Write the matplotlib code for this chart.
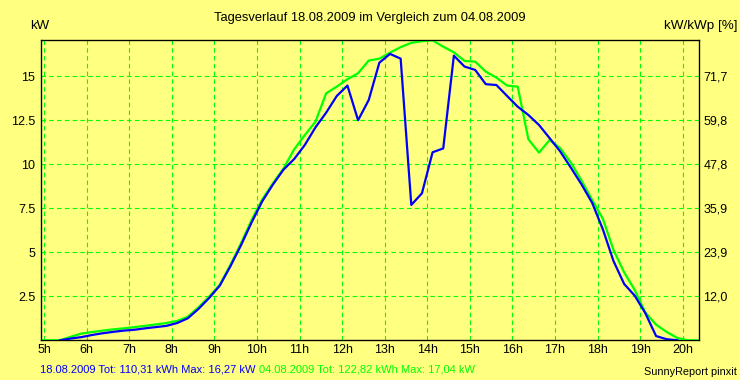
import numpy as np
import matplotlib
matplotlib.use("Agg")
import matplotlib.pyplot as plt

# Uhrzeit (Stunden, 15-min Mittelwerte)
horas = [4.875, 5.125, 5.375, 5.625, 5.875, 6.125, 6.375, 6.625, 6.875, 7.125,
         7.375, 7.625, 7.875, 8.125, 8.375, 8.625, 8.875, 9.125, 9.375, 9.625,
         9.875, 10.125, 10.375, 10.625, 10.875, 11.125, 11.375, 11.625, 11.875, 12.125,
         12.375, 12.625, 12.875, 13.125, 13.375, 13.625, 13.875, 14.125, 14.375, 14.625,
         14.875, 15.125, 15.375, 15.625, 15.875, 16.125, 16.375, 16.625, 16.875, 17.125,
         17.375, 17.625, 17.875, 18.125, 18.375, 18.625, 18.875, 19.125, 19.375, 19.625,
         19.875, 20.125, 20.375]

# 18.08.2009 (blau)
kw_18 = [None, None, 0, 0.1, 0.18, 0.3, 0.4, 0.48, 0.55, 0.6,
         0.68, 0.75, 0.82, 0.98, 1.25, 1.78, 2.4, 3.1, 4.2, 5.4,
         6.7, 7.9, 8.85, 9.7, 10.3, 11.1, 12.1, 12.93, 13.88, 14.47,
         12.5, 13.65, 15.77, 16.27, 16.0, 7.69, 8.35, 10.68, 10.9, 16.17,
         15.55, 15.36, 14.55, 14.5, 13.88, 13.27, 12.8, 12.23, 11.48, 10.72,
         9.8, 8.85, 7.8, 6.3, 4.5, 3.2, 2.53, 1.53, 0.24, 0.06,
         0, None, None]

# 04.08.2009 (gruen)
kw_04 = [0, 0, 0, 0.2, 0.38, 0.47, 0.55, 0.62, 0.68, 0.75,
         0.82, 0.9, 0.98, 1.1, 1.34, 1.87, 2.48, 3.15, 4.28, 5.51,
         6.84, 8.01, 8.92, 9.77, 10.85, 11.66, 12.42, 14.03, 14.41, 14.83,
         15.17, 15.89, 16.0, 16.34, 16.65, 16.9, 16.99, 17.04, 16.68, 16.36,
         15.87, 15.83, 15.26, 14.92, 14.47, 14.41, 11.42, 10.66, 11.38, 10.91,
         10.09, 9.07, 7.97, 6.9, 5.13, 3.86, 2.85, 1.57, 0.89, 0.47,
         0.13, 0, 0]

horas_ticks = list(range(5, 21))
horas_labels = [f"{h}h" for h in horas_ticks]
kw_ticks = [2.5, 5, 7.5, 10, 12.5, 15]
kw_labels = ["2.5", "5", "7.5", "10", "12.5", "15"]
pct_labels = ["12,0", "23,9", "35,9", "47,8", "59,8", "71,7"]

amarillo = "#FFFF80"
verde = "#00FF00"
azul = "#0000FF"
plt.rcParams['font.family'] = ['Liberation Sans', 'DejaVu Sans']

fig = plt.figure(figsize=(7.4, 3.8), dpi=100, facecolor=amarillo)
ax = fig.add_axes([0.055, 0.1045, 0.89, 0.7903])
ax.set_facecolor(amarillo)

x = np.array(horas, dtype=float)
y18 = np.array([np.nan if v is None else v for v in kw_18], dtype=float)
y04 = np.array(kw_04, dtype=float)

ax.plot(x, y04, color=verde, lw=1.6, zorder=3)
ax.plot(x, y18, color=azul, lw=1.6, zorder=4)

ax.set_xlim(4.92, 20.39)
ax.set_ylim(0, 17.06)
ax.set_xticks(horas_ticks)
ax.set_xticklabels(horas_labels, fontsize=9)
ax.set_yticks(kw_ticks)
ax.set_yticklabels(kw_labels, fontsize=9)
ax.tick_params(length=0, pad=4)
ax.tick_params(axis="x", pad=3)
ax.grid(True, color=verde, ls=(0, (4, 3)), lw=0.8)
for s in ax.spines.values():
    s.set_color("black")
    s.set_linewidth(0.9)

ax2 = ax.twinx()
ax2.set_ylim(ax.get_ylim())
ax2.set_yticks(kw_ticks)
ax2.set_yticklabels(pct_labels, fontsize=9)
ax2.tick_params(length=0, pad=3)

fig.text(0.5, 1 - 18 / 380, "Tagesverlauf 18.08.2009 im Vergleich zum 04.08.2009",
         ha="center", va="center", fontsize=9.3)
fig.text(40 / 740, 1 - 26 / 380, "kW", ha="center", va="center", fontsize=9.5)
fig.text(737 / 740, 1 - 26 / 380, "kW/kWp [%]", ha="right", va="center", fontsize=9.7)

t1 = fig.text(40 / 740, 1 - 369 / 380, "18.08.2009 Tot: 110,31 kWh Max: 16,27 kW",
              color=azul, ha="left", va="center", fontsize=8)
fig.canvas.draw()
bb = t1.get_window_extent()
fig.text(bb.x1 / fig.bbox.width + 3 / 740, 1 - 369 / 380,
         "04.08.2009 Tot: 122,82 kWh Max: 17,04 kW",
         color=verde, ha="left", va="center", fontsize=8)
fig.text(737 / 740, 1 - 372 / 380, "SunnyReport pinxit", ha="right", va="center", fontsize=7.8)

plt.savefig("out.png", dpi=100, facecolor=amarillo)
